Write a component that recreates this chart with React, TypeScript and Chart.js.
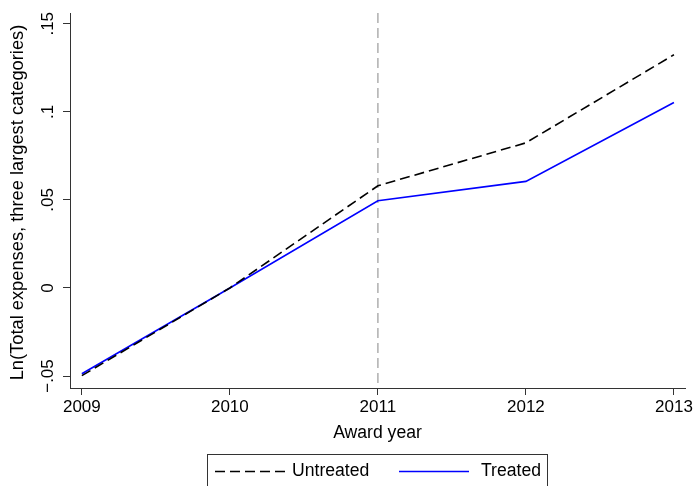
import React, { useEffect, useRef } from "react";
import { Chart, registerables } from "chart.js";

Chart.register(...registerables);

const years = [2009, 2010, 2011, 2012, 2013];
const untreated = [-0.0498, 0, 0.058, 0.0824, 0.1324];
const treated = [-0.0487, 0, 0.0495, 0.0605, 0.1053];
const seriesNames = ["Untreated", "Treated"];
const xTickValues = [2009, 2010, 2011, 2012, 2013];
const yTickValues = [-0.05, 0, 0.05, 0.1, 0.15];
const yTickLabels = ["\u2212.05", "0", ".05", ".1", ".15"];
const treatYear = 2011;
const xTitle = "Award year";
const yTitle = "Ln(Total expenses, three largest categories)";

const FONT = '"Liberation Sans", Arial, Helvetica, sans-serif';
const FS = 17;
const FS_TITLE = 18.3;

const stataPlugin = {
  id: "stata",
  beforeDatasetsDraw(chart: any) {
    const { ctx, chartArea, scales } = chart;
    const x = scales.x.getPixelForValue(treatYear);
    ctx.save();
    ctx.strokeStyle = "#b3b3b3";
    ctx.lineWidth = 1.6;
    ctx.setLineDash([10, 5]);
    ctx.beginPath();
    ctx.moveTo(x, chartArea.top);
    ctx.lineTo(x, chartArea.bottom);
    ctx.stroke();
    ctx.restore();
  },
  afterDraw(chart: any) {
    const { ctx, chartArea, scales } = chart;
    ctx.save();
    ctx.fillStyle = "#000";
    ctx.font = `${FS}px ${FONT}`;
    // y tick labels, rotated
    const ys = scales.y;
    ys.ticks.forEach((t: any) => {
      const py = ys.getPixelForValue(t.value);
      ctx.save();
      ctx.translate(48, py);
      ctx.rotate(-Math.PI / 2);
      ctx.textAlign = "center";
      ctx.textBaseline = "middle";
      ctx.fillText(yTickLabels[yTickValues.indexOf(t.value)] ?? String(t.value), 0, 0);
      ctx.restore();
    });
    // y title
    ctx.save();
    ctx.font = `${FS_TITLE}px ${FONT}`;
    ctx.translate(18, (chartArea.top + chartArea.bottom) / 2 + 2);
    ctx.rotate(-Math.PI / 2);
    ctx.textAlign = "center";
    ctx.textBaseline = "middle";
    ctx.fillText(yTitle, 0, 0);
    ctx.restore();
    // x title
    ctx.font = `17.6px ${FONT}`;
    ctx.textAlign = "center";
    ctx.textBaseline = "middle";
    ctx.fillText(xTitle, (chartArea.left + chartArea.right) / 2, 433);
    // legend box
    ctx.strokeStyle = "#333";
    ctx.lineWidth = 1;
    ctx.strokeRect(207.5, 454.5, 340, 60);
    const ly = 471.5;
    chart.data.datasets.forEach((ds: any, i: number) => {
      const x0 = i === 0 ? 215 : 399;
      ctx.save();
      ctx.strokeStyle = ds.borderColor;
      ctx.lineWidth = ds.borderWidth;
      ctx.setLineDash(ds.borderDash || []);
      ctx.beginPath();
      ctx.moveTo(x0, ly);
      ctx.lineTo(x0 + 70, ly);
      ctx.stroke();
      ctx.restore();
      ctx.textAlign = "left";
      ctx.fillText(ds.label, i === 0 ? 292 : 481, ly);
    });
    ctx.restore();
  },
};

export default function App() {
  const ref = useRef<HTMLCanvasElement>(null);
  useEffect(() => {
    const canvas = ref.current!;
    const chart = new Chart(canvas, {
      type: "line",
      data: {
        datasets: [
          {
            label: seriesNames[0],
            data: years.map((y, i) => ({ x: y, y: untreated[i] })),
            borderColor: "#000000",
            borderWidth: 1.6,
            borderDash: [10, 5],
            pointRadius: 0,
            fill: false,
            tension: 0,
          },
          {
            label: seriesNames[1],
            data: years.map((y, i) => ({ x: y, y: treated[i] })),
            borderColor: "#0000ff",
            borderWidth: 1.6,
            pointRadius: 0,
            fill: false,
            tension: 0,
          },
        ],
      },
      options: {
        animation: false,
        responsive: false,
        layout: { padding: { left: 0, right: 9, top: 13, bottom: 0 } },
        plugins: { legend: { display: false }, tooltip: { enabled: false } },
        scales: {
          x: {
            type: "linear",
            min: 2008.92,
            max: 2013.075,
            afterBuildTicks: (s: any) => {
              s.ticks = xTickValues.map((v) => ({ value: v }));
            },
            afterFit: (s: any) => {
              s.height = 98;
            },
            ticks: {
              color: "#000",
              font: { family: FONT, size: FS },
              padding: 2,
              maxRotation: 0,
              minRotation: 0,
              callback: (v: any) => String(v),
            },
            grid: {
              drawOnChartArea: false,
              drawTicks: true,
              tickLength: 7,
              tickColor: "#333",
              tickWidth: 1,
            },
            border: { display: true, color: "#333", width: 1 },
          },
          y: {
            type: "linear",
            min: -0.0568,
            max: 0.1561,
            afterBuildTicks: (s: any) => {
              s.ticks = yTickValues.map((v) => ({ value: v }));
            },
            afterFit: (s: any) => {
              s.width = 70;
            },
            ticks: { display: false },
            grid: {
              drawOnChartArea: false,
              drawTicks: true,
              tickLength: 7,
              tickColor: "#333",
              tickWidth: 1,
            },
            border: { display: true, color: "#333", width: 1 },
          },
        },
      },
      plugins: [stataPlugin],
    });
    return () => chart.destroy();
  }, []);
  return (
    <div style={{ position: "absolute", left: 0, top: 0, width: 695, height: 486, background: "#fff" }}>
      <canvas ref={ref} width={695} height={486} style={{ display: "block" }} />
    </div>
  );
}
